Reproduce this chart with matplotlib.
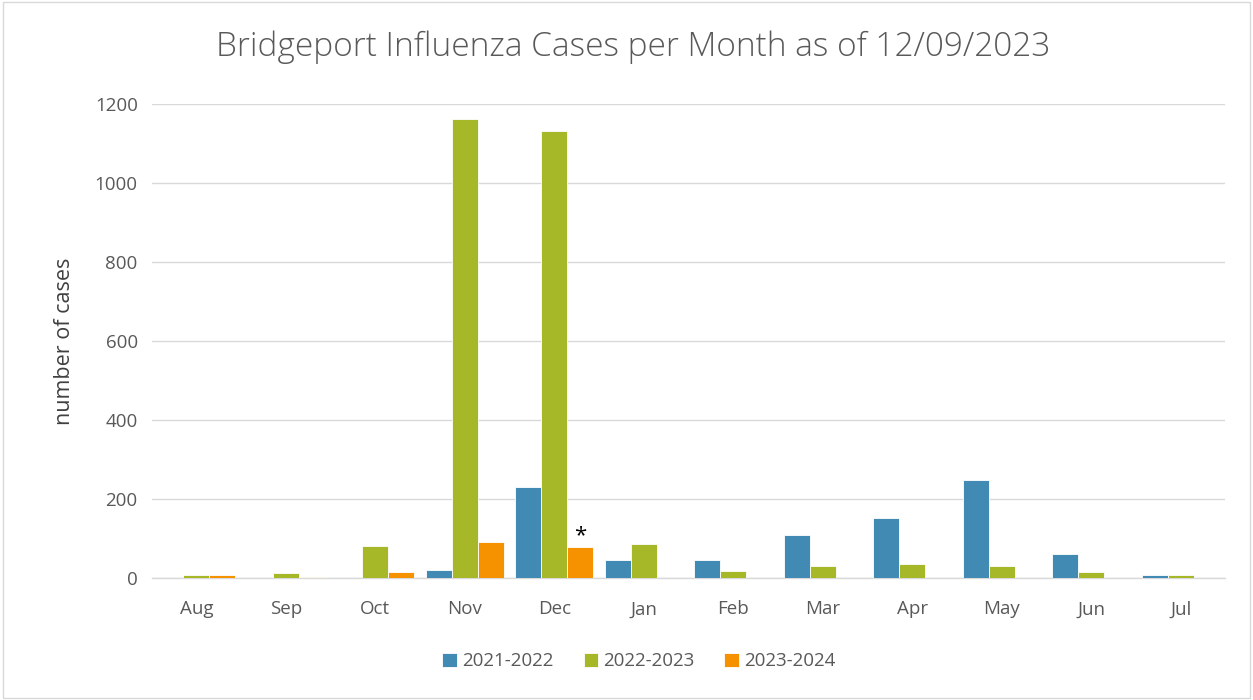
import matplotlib.pyplot as plt
import numpy as np
from matplotlib.patches import Rectangle

months = ['Aug', 'Sep', 'Oct', 'Nov', 'Dec', 'Jan', 'Feb', 'Mar', 'Apr', 'May', 'Jun', 'Jul']
s2021 = [0, 0, 0, 20, 231, 47, 46, 110, 152, 248, 62, 7]
s2022 = [8, 13, 81, 1164, 1132, 87, 19, 30, 36, 30, 16, 9]
s2023 = [8, 4, 15, 91, 78, 0, 0, 0, 0, 0, 0, 0]
season_labels = ['2021-2022', '2022-2023', '2023-2024']
colors = ['#418AB3', '#A6B727', '#F69200']

plt.rcParams['font.family'] = ['Open Sans', 'DejaVu Sans']

fig = plt.figure(figsize=(12.53, 7), dpi=100)
ax = fig.add_axes([0.121, 0.174, 0.857, 0.677])

x = np.arange(len(months))
w = 0.29
for i, (vals, lab, c) in enumerate(zip([s2021, s2022, s2023], season_labels, colors)):
    ax.bar(x + (i - 1) * w, vals, w, color=c, label=lab, edgecolor='white', linewidth=0.6, zorder=3)

# asterisk over the partial December value
ax.annotate('*', (x[4] + w, s2023[4]), xytext=(0, 1), textcoords='offset points',
            ha='center', va='bottom', fontsize=16, color='black')

ax.set_xlim(-0.5, len(months) - 0.5)
ax.set_ylim(0, 1200)
ax.set_yticks(range(0, 1201, 200))
ax.set_xticks(x)
ax.set_xticklabels(months)
ax.tick_params(length=0, labelsize=13.5, labelcolor='#595959')
ax.tick_params(axis='x', pad=16)
ax.tick_params(axis='y', pad=10)
ax.grid(axis='y', color='#D9D9D9', linewidth=1, zorder=0)
for s in ['top', 'right', 'left']:
    ax.spines[s].set_visible(False)
ax.spines['bottom'].set_color('#D9D9D9')
ax.spines['bottom'].set_linewidth(1)

ax.set_ylabel('number of cases', fontsize=15.5, color='#404040', labelpad=14)
fig.text(0.505, 0.932, 'Bridgeport Influenza Cases per Month as of 12/09/2023',
         ha='center', va='center', fontsize=24, color='#595959', fontweight='light')

fig.legend(loc='center', bbox_to_anchor=(0.51, 0.055), ncol=3, frameon=False,
           fontsize=13.5, labelcolor='#595959', handlelength=0.75, handleheight=0.75,
           columnspacing=1.6, handletextpad=0.3)

fig.patches.append(Rectangle((0.002, 0.003), 0.996, 0.994, transform=fig.transFigure,
                             fill=False, edgecolor='#D9D9D9', linewidth=1))

fig.savefig('out.png', dpi=100)
